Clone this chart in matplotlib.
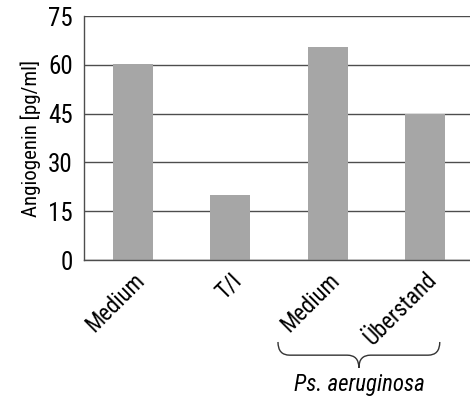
import numpy as np
import matplotlib.pyplot as plt
from matplotlib.path import Path
from matplotlib.patches import PathPatch
from matplotlib.transforms import blended_transform_factory

categories = ["Medium", "T/I", "Medium", "Überstand"]
values = [60.2, 20.0, 65.4, 44.9]
yticks = [0, 15, 30, 45, 60, 75]
group_label = "Ps. aeruginosa"

plt.rcParams["font.family"] = ["Liberation Sans Narrow", "Roboto Condensed",
                               "Archivo Narrow", "Liberation Sans", "DejaVu Sans"]

fig = plt.figure(figsize=(4.70, 3.99), dpi=100)
ax = fig.add_axes([84 / 470, 139 / 399, 386 / 470, 244 / 399])

x = np.arange(len(categories))
ax.bar(x, values, width=0.41, color="#a6a6a6", zorder=2)

ax.set_xlim(-0.5, 3.46)
ax.set_ylim(0, 75)
ax.set_yticks(yticks)
ax.set_yticklabels([str(v) for v in yticks], fontsize=18)
ax.yaxis.grid(True, color="#4d4d4d", linewidth=1.0, zorder=0)
ax.set_axisbelow(True)
ax.tick_params(axis="both", length=0, colors="black")
ax.tick_params(axis="y", pad=8)

ax.set_xticks(x)
ax.set_xticklabels(categories, rotation=45, ha="right", va="top",
                   rotation_mode="anchor", fontsize=16.5)
ax.tick_params(axis="x", pad=6)

for side in ["top", "right"]:
    ax.spines[side].set_visible(False)
for side in ["left", "bottom"]:
    ax.spines[side].set_color("#4d4d4d")
    ax.spines[side].set_linewidth(1.0)

ax.set_ylabel("Angiogenin [pg/ml]", fontsize=15, labelpad=5)

# curly brace under the two Ps. aeruginosa groups
tr = blended_transform_factory(ax.transData, ax.transAxes)
x0, x1 = 1.49, 3.15
xm = (x0 + x1) / 2
ytop, ymid, ytip = -0.336, -0.39, -0.442
dx = 0.12
verts = [
    (x0, ytop), (x0, ymid), (x0 + dx, ymid),
    (x0 + dx, ymid), (xm - dx, ymid),
    (xm, ymid), (xm, ytip),
    (xm, ymid), (xm + dx, ymid),
    (x1 - dx, ymid),
    (x1, ymid), (x1, ytop),
]
codes = [Path.MOVETO, Path.CURVE3, Path.CURVE3,
         Path.LINETO, Path.LINETO,
         Path.CURVE3, Path.CURVE3,
         Path.CURVE3, Path.CURVE3,
         Path.LINETO,
         Path.CURVE3, Path.CURVE3]
brace = PathPatch(Path(verts, codes), transform=tr, fill=False,
                  edgecolor="#333333", linewidth=1.0, clip_on=False)
ax.add_patch(brace)

ax.text(xm, -0.51, group_label, transform=tr, ha="center", va="center",
        fontsize=16.5, style="italic")

fig.savefig("out.png", dpi=100)
